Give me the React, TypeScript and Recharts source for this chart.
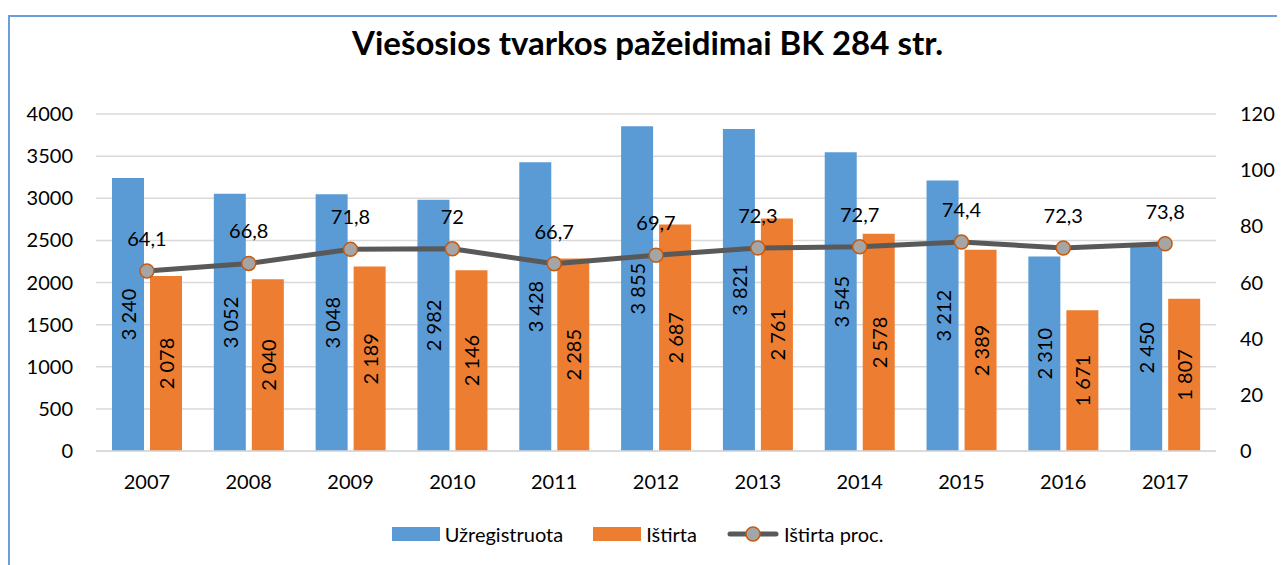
import React from "react";
import { ComposedChart, Bar, Line, XAxis, YAxis, CartesianGrid, LabelList } from "recharts";

const years = ["2007", "2008", "2009", "2010", "2011", "2012", "2013", "2014", "2015", "2016", "2017"];
const registered = [3240, 3052, 3048, 2982, 3428, 3855, 3821, 3545, 3212, 2310, 2450];
const cleared = [2078, 2040, 2189, 2146, 2285, 2687, 2761, 2578, 2389, 1671, 1807];
const clearedPct = [64.1, 66.8, 71.8, 72, 66.7, 69.7, 72.3, 72.7, 74.4, 72.3, 73.8];
const leftTicks = [0, 500, 1000, 1500, 2000, 2500, 3000, 3500, 4000];
const rightTicks = [0, 20, 40, 60, 80, 100, 120];

const data = years.map((year, i) => ({
  year,
  registered: registered[i],
  cleared: cleared[i],
  pct: clearedPct[i],
}));

const FONT = "Lato, 'Open Sans', sans-serif";
const BLUE = "#5B9BD5";
const ORANGE = "#ED7D31";
const LINE = "#595959";
const GRID = "#D9D9D9";

// 3240 -> "3 240"
const fmtThousands = (v: number) => String(v).replace(/\B(?=(\d{3})+(?!\d))/g, " ");
const fmtPct = (v: number) => String(v).replace(".", ",");

const VerticalLabel = (props: any) => {
  const { x, y, width, height, value } = props;
  const cx = x + width / 2;
  const cy = y + height / 2;
  return (
    <text
      x={cx}
      y={cy}
      transform={`rotate(-90 ${cx} ${cy})`}
      textAnchor="middle"
      dominantBaseline="central"
      fontFamily={FONT}
      fontSize={20}
      fill="#000"
    >
      {fmtThousands(value)}
    </text>
  );
};

const tickStyle = { fontFamily: FONT, fontSize: 20, fill: "#000" };

const LegendItem: React.FC<{ kind: "bar" | "line"; color: string; label: string }> = ({ kind, color, label }) => (
  <div style={{ display: "flex", alignItems: "center", gap: 5 }}>
    {kind === "bar" ? (
      <div style={{ width: 48, height: 14, background: color }} />
    ) : (
      <svg width={52} height={16}>
        <line x1={3} y1={8} x2={49} y2={8} stroke={LINE} strokeWidth={5} strokeLinecap="round" />
        <circle cx={26} cy={8} r={7} fill="#A5A5A5" stroke="#C55A11" strokeWidth={1.5} />
      </svg>
    )}
    <span style={{ fontFamily: FONT, fontSize: 20, color: "#000" }}>{label}</span>
  </div>
);

export default function App() {
  return (
    <div
      style={{
        position: "relative",
        marginTop: 7,
        width: 1275,
        height: 548,
        borderLeft: "2px solid #6A9FD9",
        borderTop: "2px solid #6A9FD9",
        background: "#fff",
      }}
    >
      <div
        style={{
          position: "absolute",
          top: 5,
          left: 0,
          width: 1275,
          textAlign: "center",
          fontFamily: FONT,
          fontWeight: 700,
          fontSize: 33,
          color: "#000",
        }}
      >
        Viešosios tvarkos pažeidimai BK 284 str.
      </div>
      <ComposedChart
        width={1275}
        height={548}
        data={data}
        margin={{ top: 97, right: 0, bottom: 74, left: 0 }}
        barSize={32}
        barGap={6}
      >
        <CartesianGrid yAxisId="left" vertical={false} stroke={GRID} strokeWidth={1.5} />
        <XAxis
          dataKey="year"
          height={40}
          tickLine={false}
          tickSize={0}
          tickMargin={24}
          axisLine={{ stroke: GRID, strokeWidth: 1.5 }}
          tick={tickStyle}
        />
        <YAxis
          yAxisId="left"
          width={86}
          domain={[0, 4000]}
          ticks={leftTicks}
          axisLine={false}
          tickLine={false}
          tickSize={0}
          tickMargin={23}
          tick={tickStyle}
        />
        <YAxis
          yAxisId="right"
          orientation="right"
          width={69}
          domain={[0, 120]}
          ticks={rightTicks}
          axisLine={false}
          tickLine={false}
          tickSize={0}
          tickMargin={24}
          tick={tickStyle}
        />
        <Bar yAxisId="left" dataKey="registered" name="Užregistruota" fill={BLUE} isAnimationActive={false}>
          <LabelList dataKey="registered" content={VerticalLabel} />
        </Bar>
        <Bar yAxisId="left" dataKey="cleared" name="Ištirta" fill={ORANGE} isAnimationActive={false}>
          <LabelList dataKey="cleared" content={VerticalLabel} />
        </Bar>
        <Line
          yAxisId="right"
          dataKey="pct"
          name="Ištirta proc."
          stroke={LINE}
          strokeWidth={5}
          dot={{ r: 7, fill: "#A5A5A5", stroke: "#C55A11", strokeWidth: 1.5 }}
          activeDot={false}
          isAnimationActive={false}
        >
          <LabelList
            dataKey="pct"
            position="top"
            offset={25}
            formatter={(v: any) => fmtPct(v)}
            style={{ fontFamily: FONT, fontSize: 20, fill: "#000" }}
          />
        </Line>
      </ComposedChart>
      <div
        style={{
          position: "absolute",
          top: 505,
          left: 0,
          width: 1255,
          display: "flex",
          justifyContent: "center",
          gap: 30,
        }}
      >
        <LegendItem kind="bar" color={BLUE} label="Užregistruota" />
        <LegendItem kind="bar" color={ORANGE} label="Ištirta" />
        <LegendItem kind="line" color={LINE} label="Ištirta proc." />
      </div>
    </div>
  );
}
